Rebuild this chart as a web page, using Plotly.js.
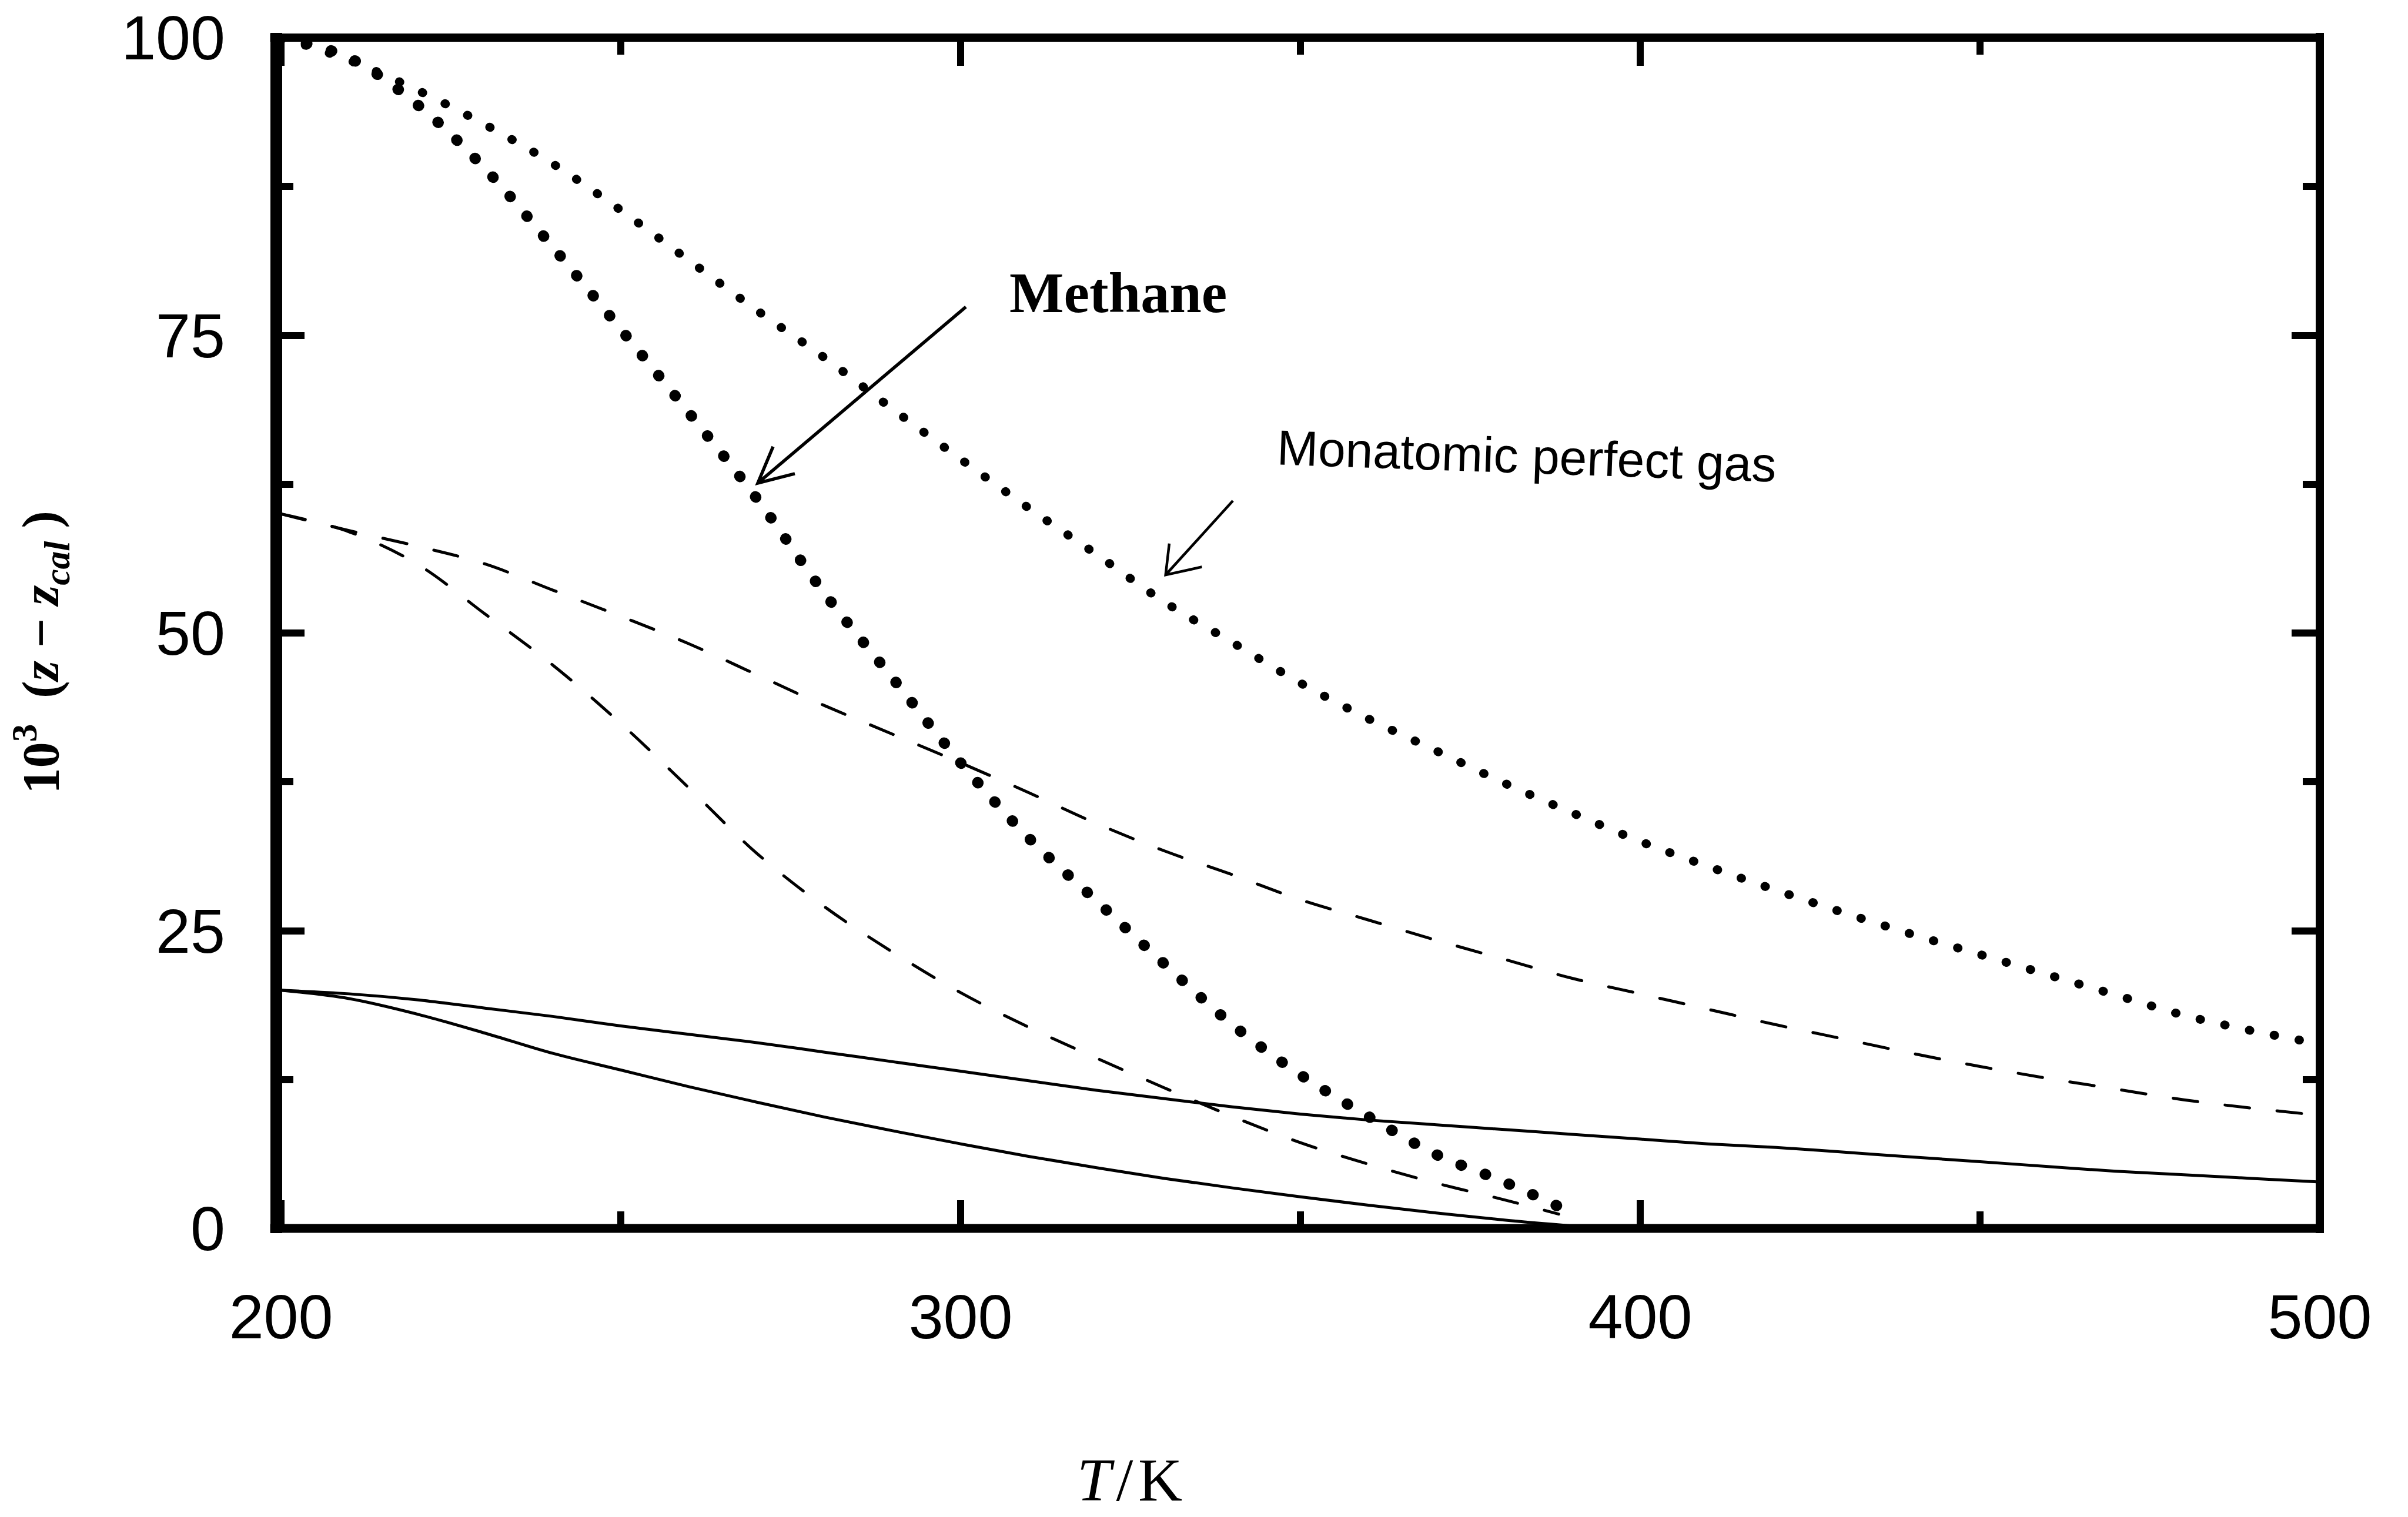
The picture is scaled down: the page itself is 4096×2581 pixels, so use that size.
<!DOCTYPE html>
<html>
<head>
<meta charset="utf-8">
<script src="https://cdn.plot.ly/plotly-3.0.1.min.js"></script>
<style>
html,body{margin:0;padding:0;background:#fff;}
#chart{width:4096px;height:2581px;}
.js-line{stroke-linecap:round;}
</style>
</head>
<body>
<div id="chart"></div>
<script>
// ---- data ----
const monoT = [200,210,220,230,240,250,260,270,280,290,300,310,320,330,340,350,360,370,380,390,400,410,420,430,440,450,460,470,480,490,500];
const monoZ = [100,98.1,95.6,92.7,89.4,85.5,81.3,77.1,73.1,68.8,64.6,60.5,56.6,52.6,49.2,45.8,42.8,40.1,37.4,34.9,32.5,30.4,28.4,26.5,24.7,23.0,21.3,19.6,17.9,16.6,15.5];

const methT = [200,210,220,230,240,250,260,270,280,290,300,310,320,330,340,350,360,370,380,390];
const methZ = [100,98.3,94.4,89.0,82.4,75.5,68.5,61.3,53.3,46.2,39.1,32.8,27.5,22.2,17.1,12.9,9.4,6.2,3.9,1.3];

const dash1T = [200,210,220,230,240,250,260,270,280,290,300,310,320,330,340,350,360,370,380,390,400,410,420,430,440,450,460,470,480,490,500];
const dash1Z = [60,58.6,57.3,55.8,53.6,51.4,49.1,46.5,43.9,41.5,39.1,36.6,34.0,31.7,29.7,27.6,25.9,24.2,22.6,21.0,19.7,18.4,17.1,15.9,14.7,13.6,12.6,11.7,10.8,10.1,9.5];

const dash2T = [200,210,220,230,240,250,260,270,280,290,300,310,320,330,340,350,360,370,380,388];
const dash2Z = [60,58.5,55.8,51.6,47.3,42.4,37.0,31.5,27.0,23.2,19.8,16.9,14.3,11.8,9.4,7.2,5.4,3.8,2.4,1.2];

const solid1T = [200,210,220,230,240,250,260,270,280,290,300,310,320,330,340,350,360,370,380,390,400,410,420,430,440,450,460,470,480,490,500];
const solid1Z = [20,19.7,19.2,18.5,17.8,17.0,16.3,15.6,14.8,14.0,13.2,12.4,11.6,10.9,10.2,9.6,9.1,8.7,8.3,7.9,7.5,7.1,6.8,6.4,6.0,5.6,5.2,4.8,4.5,4.2,3.9];

const solid2T = [200,210,220,230,240,250,260,270,280,290,300,310,320,330,340,350,360,370,380,390];
const solid2Z = [20,19.3,18.0,16.4,14.7,13.3,11.9,10.6,9.35,8.2,7.1,6.05,5.1,4.2,3.4,2.65,1.95,1.3,0.7,0.2];

const xTickVals = [200,300,400,500];
const xTickText = ['200','300','400','500'];
const xMinorVals = [250,350,450];
const yTickVals = [0,25,50,75,100];
const yTickText = ['0','25','50','75','100'];
const yMinorVals = [12.5,37.5,62.5,87.5];

// ---- traces ----
function tr(x, y, width, dash) {
  return {x: x, y: y, type: 'scatter', mode: 'lines', hoverinfo: 'skip', showlegend: false,
          line: {color: '#000', width: width, dash: dash, shape: 'spline', smoothing: 1}};
}
const data = [
  tr(solid1T, solid1Z, 5, 'solid'),
  tr(solid2T, solid2Z, 5, 'solid'),
  tr(dash1T, dash1Z, 5, '42px,47px'),
  tr(dash2T, dash2Z, 5, '42px,47px'),
  tr(methT, methZ, 19, '1px,43px'),
  tr(monoT, monoZ, 15, '1px,42px')
];

const tickFont = {family: 'Liberation Sans, Arial, Helvetica, sans-serif', size: 106, color: '#000'};
const serif = 'Liberation Serif, Times New Roman, serif';

// arrow paths (annotation pointers) in axis units: tail -> tip, then open V head
const methaneArrow = 'M300.77,77.39 L270.15,62.59 M272.40,65.65 L270.15,62.59 L275.60,63.38';
const monoArrow = 'M340.06,61.10 L330.16,54.88 M330.70,57.51 L330.16,54.88 L335.50,55.55';

const layout = {
  width: 4096, height: 2581,
  margin: {l: 470, r: 150, t: 64, b: 491, pad: 0},
  paper_bgcolor: '#fff', plot_bgcolor: '#fff',
  font: {family: 'Liberation Sans, Arial, sans-serif', color: '#000'},
  xaxis: {
    range: [199.3, 500], fixedrange: true, automargin: false,
    showgrid: false, zeroline: false, showline: false,
    tickmode: 'array', tickvals: xTickVals, ticktext: xTickText,
    ticks: 'inside', ticklen: 48, tickwidth: 12, tickcolor: '#000', mirror: 'ticks',
    minor: {tickmode: 'array', tickvals: xMinorVals, ticks: 'inside', ticklen: 29, tickwidth: 12, tickcolor: '#000', showgrid: false},
    tickfont: tickFont, ticklabelstandoff: 80
  },
  yaxis: {
    range: [0, 100], fixedrange: true, automargin: false,
    showgrid: false, zeroline: false, showline: false,
    tickmode: 'array', tickvals: yTickVals, ticktext: yTickText,
    ticks: 'inside', ticklen: 48, tickwidth: 12, tickcolor: '#000', mirror: 'ticks',
    minor: {tickmode: 'array', tickvals: yMinorVals, ticks: 'inside', ticklen: 29, tickwidth: 12, tickcolor: '#000', showgrid: false},
    tickfont: tickFont, ticklabelstandoff: 86
  },
  shapes: [
    {type: 'line', xref: 'paper', yref: 'paper', x0: 0, x1: 0, y0: -0.004, y1: 1.004, line: {color: '#000', width: 20}, layer: 'above'},
    {type: 'line', xref: 'paper', yref: 'paper', x0: 1, x1: 1, y0: -0.004, y1: 1.004, line: {color: '#000', width: 14}, layer: 'above'},
    {type: 'line', xref: 'paper', yref: 'paper', x0: -0.003, x1: 1.002, y0: 1, y1: 1, line: {color: '#000', width: 14}, layer: 'above'},
    {type: 'line', xref: 'paper', yref: 'paper', x0: -0.003, x1: 1.002, y0: 0, y1: 0, line: {color: '#000', width: 15}, layer: 'above'},
    {type: 'path', xref: 'x', yref: 'y', path: methaneArrow, line: {color: '#000', width: 5.5}, layer: 'above'},
    {type: 'path', xref: 'x', yref: 'y', path: monoArrow, line: {color: '#000', width: 4.5}, layer: 'above'}
  ],
  annotations: [
    {xref: 'paper', yref: 'paper', x: 0.412, y: 0.7858, xanchor: 'center', yanchor: 'middle', showarrow: false,
     text: '<b>Methane</b>', font: {family: serif, size: 98, color: '#000'}},
    {xref: 'paper', yref: 'paper', x: 0.6119, y: 0.6486, xanchor: 'center', yanchor: 'middle', showarrow: false, textangle: 2,
     text: 'Monatomic perfect gas', font: {family: 'Liberation Sans, Arial, sans-serif', size: 84, color: '#000'}},
    {xref: 'paper', yref: 'paper', x: 0.4177, y: -0.2405, xanchor: 'center', yanchor: 'bottom', showarrow: false,
     text: '<i>T</i>\u200a/\u200aK', font: {family: serif, size: 104, color: '#000'}},
    {xref: 'paper', yref: 'paper', x: -0.1155, y: 0.4837, xanchor: 'center', yanchor: 'middle', showarrow: false, textangle: -90,
     text: '<b>10<sup>3</sup>\u00a0\u00a0(<i>z</i> \u2212 <i>z</i><sub><i>cal</i></sub>\u00a0)</b>', font: {family: serif, size: 88, color: '#000'}}
  ]
};

Plotly.newPlot('chart', data, layout, {displayModeBar: false, staticPlot: true});
</script>
</body>
</html>
